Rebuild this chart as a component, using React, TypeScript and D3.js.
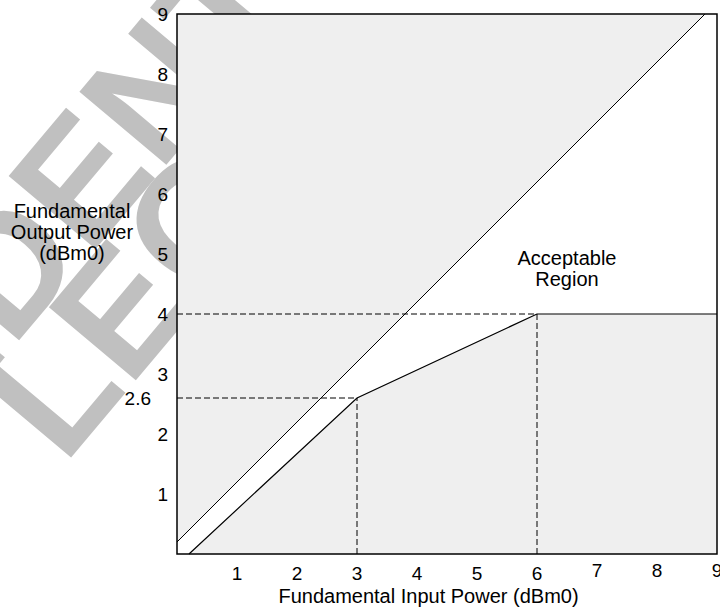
import React from "react";
import * as d3 from "d3";

// ---- data ----
const xTicks = [1, 2, 3, 4, 5, 6, 7, 8, 9];
const yTicks = [1, 2, 3, 4, 5, 6, 7, 8, 9];
const extraYTick = 2.6;
const upperX = [0, 8.8];
const upperY = [0.2, 9];
const lowerX = [0.2, 3, 6, 9];
const lowerY = [0, 2.6, 4, 4];
const guideX = [3, 6];
const guideY = [2.6, 4];
const watermarkLines = ["CONFIDENTIAL", "LEGAL"];

const W = 720;
const H = 614;
const M = { left: 177, top: 14, right: 717, bottom: 554 };
const FONT = "'Liberation Sans', Arial, Helvetica, sans-serif";

export default function App() {
  const x = d3.scaleLinear().domain([0, 9]).range([M.left, M.right]);
  const y = d3.scaleLinear().domain([0, 9]).range([M.bottom, M.top]);

  const line = d3
    .line<[number, number]>()
    .x((d) => x(d[0]))
    .y((d) => y(d[1]));

  const upperPts: [number, number][] = upperX.map((v, i) => [v, upperY[i]]);
  const lowerPts: [number, number][] = lowerX.map((v, i) => [v, lowerY[i]]);

  // acceptable (white) region polygon
  const whitePoly: [number, number][] = [
    [0, 0],
    [upperX[0], upperY[0]],
    [upperX[1], upperY[1]],
    [9, 9],
    ...lowerPts.slice().reverse(),
  ];

  const wmAngle = -50;
  const wmSize = 165;

  return (
    <svg
      width={W}
      height={H}
      style={{ position: "absolute", left: 0, top: 0, background: "#fff" }}
      fontFamily={FONT}
    >
      {/* watermark */}
      <g fill="#c0c0c0" fontSize={wmSize} fontWeight="bold" fontFamily={FONT}>
        <text transform={`translate(-318,742) rotate(${wmAngle})`}>{watermarkLines[0]}</text>
        <text transform={`translate(64,466) rotate(${wmAngle})`}>{watermarkLines[1]}</text>
      </g>

      {/* plot background */}
      <rect
        x={M.left}
        y={M.top}
        width={M.right - M.left}
        height={M.bottom - M.top}
        fill="#efefef"
      />
      <path d={line(whitePoly) + "Z"} fill="#ffffff" stroke="none" />

      {/* guide dashed lines */}
      <g stroke="#000" strokeWidth={1} strokeDasharray="6,3" fill="none">
        {guideX.map((gx, i) => (
          <g key={i}>
            <line x1={x(0)} x2={x(gx)} y1={y(guideY[i])} y2={y(guideY[i])} />
            <line x1={x(gx)} x2={x(gx)} y1={y(0)} y2={y(guideY[i])} />
          </g>
        ))}
      </g>

      {/* boundary lines */}
      <path d={line(upperPts) || ""} fill="none" stroke="#000" strokeWidth={1} />
      <path d={line(lowerPts) || ""} fill="none" stroke="#000" strokeWidth={1.2} />

      {/* frame */}
      <rect
        x={M.left}
        y={M.top}
        width={M.right - M.left}
        height={M.bottom - M.top}
        fill="none"
        stroke="#000"
        strokeWidth={1.5}
      />

      {/* x tick labels */}
      <g fontSize={19} textAnchor="middle" fill="#000">
        {xTicks.map((t) => (
          <text key={t} x={x(t)} y={t >= 7 ? 577 : 580}>
            {t}
          </text>
        ))}
      </g>

      {/* y tick labels */}
      <g fontSize={19} textAnchor="end" fill="#000">
        {yTicks.map((t) => (
          <text key={t} x={168} y={y(t)} dy="0.35em">
            {t}
          </text>
        ))}
        <text x={151} y={y(extraYTick)} dy="0.35em">
          {extraYTick}
        </text>
      </g>

      {/* axis titles */}
      <text x={428.5} y={603} fontSize={20} textAnchor="middle">
        Fundamental Input Power (dBm0)
      </text>
      <g fontSize={20} textAnchor="middle">
        <text x={72} y={218}>Fundamental</text>
        <text x={72} y={239}>Output Power</text>
        <text x={72} y={260}>(dBm0)</text>
      </g>

      {/* region label */}
      <g fontSize={20} textAnchor="middle">
        <text x={567} y={265}>Acceptable</text>
        <text x={567} y={286}>Region</text>
      </g>
    </svg>
  );
}
